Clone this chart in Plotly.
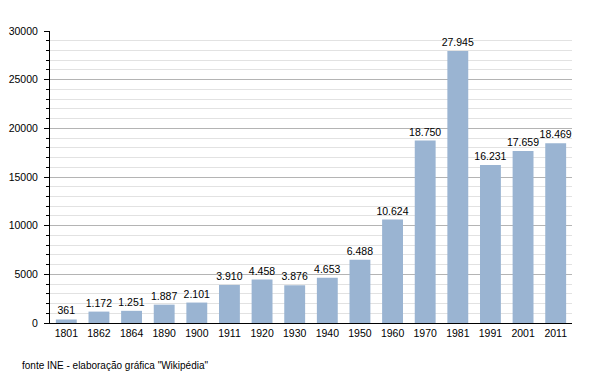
import plotly.graph_objects as go

years = ["1801", "1862", "1864", "1890", "1900", "1911", "1920", "1930", "1940",
         "1950", "1960", "1970", "1981", "1991", "2001", "2011"]
population = [361, 1172, 1251, 1887, 2101, 3910, 4458, 3876, 4653,
              6488, 10624, 18750, 27945, 16231, 17659, 18469]
labels = [f"{v:,}".replace(",", ".") for v in population]
y_ticks = [0, 5000, 10000, 15000, 20000, 25000, 30000]
y_tick_text = [str(v) for v in y_ticks]

FONT = "Liberation Sans, Arial"

fig = go.Figure()
fig.add_trace(go.Bar(
    x=years, y=population, text=labels, textposition="outside",
    textfont=dict(family=FONT, size=10.5, color="#000000"),
    marker=dict(color="#9ab4d2", line=dict(width=0)),
    cliponaxis=False,
))

# page body has an 8px default margin, so the figure is sized to fit the view
fig.update_layout(
    width=592, height=365,
    margin=dict(l=42, r=28, t=23, b=50, autoexpand=False),
    paper_bgcolor="white", plot_bgcolor="white",
    bargap=0.36,
    showlegend=False,
    uniformtext=dict(minsize=10, mode="show"),
    font=dict(family=FONT, size=10.5, color="#000000"),
    annotations=[dict(
        text='fonte INE - elaboração gráfica "Wikipédia"',
        xref="paper", yref="paper", x=-0.057, y=-0.12,
        xanchor="left", yanchor="top", showarrow=False,
        font=dict(family=FONT, size=10, color="#000000"),
    )],
)

fig.update_xaxes(
    type="category", showline=True, linecolor="#000000", linewidth=1,
    ticks="", showgrid=False, tickfont=dict(size=10.5),
)

fig.update_yaxes(
    range=[0, 30000], tickvals=y_ticks, ticktext=y_tick_text, showline=True,
    linecolor="#000000", linewidth=1, ticks="outside", ticklen=5,
    tickcolor="#000000", showgrid=True, gridcolor="#b4b4b4", gridwidth=1,
    zeroline=False, tickfont=dict(size=10.5), ticklabelstandoff=4,
    minor=dict(dtick=1000, showgrid=True, gridcolor="#e2e2e2", gridwidth=1,
               ticks="outside", ticklen=3, tickcolor="#000000"),
)

fig.write_html("out.html")
